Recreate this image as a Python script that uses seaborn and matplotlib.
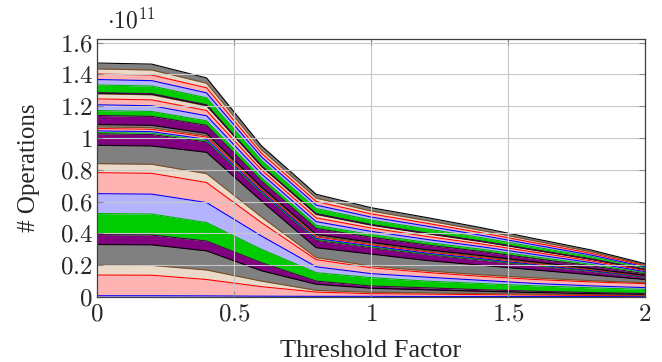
import numpy as np
import matplotlib
matplotlib.use("Agg")
import matplotlib.pyplot as plt
import seaborn as sns
from matplotlib.ticker import FuncFormatter

# ---- data (units of 1e11 operations) ----
threshold = [0.0, 0.2, 0.4, 0.6, 0.8, 1.0, 1.2, 1.4, 1.6, 1.8, 2.0]

s01 = [0.008, 0.008, 0.007, 0.005, 0.004, 0.004, 0.003, 0.003, 0.003, 0.003, 0.003]
s02 = [0.130, 0.129, 0.103, 0.060, 0.027, 0.017, 0.015, 0.012, 0.009, 0.007, 0.005]
s03 = [0.062, 0.062, 0.060, 0.035, 0.011, 0.009, 0.008, 0.007, 0.006, 0.005, 0.004]
s04 = [0.130, 0.129, 0.120, 0.065, 0.038, 0.025, 0.019, 0.014, 0.010, 0.007, 0.005]
s05 = [0.063, 0.062, 0.062, 0.051, 0.020, 0.014, 0.013, 0.010, 0.008, 0.006, 0.005]
s06 = [0.132, 0.132, 0.116, 0.084, 0.053, 0.053, 0.042, 0.039, 0.034, 0.030, 0.026]
s07 = [0.125, 0.125, 0.126, 0.084, 0.037, 0.025, 0.025, 0.020, 0.015, 0.012, 0.011]
s08 = [0.132, 0.131, 0.126, 0.084, 0.045, 0.037, 0.030, 0.025, 0.025, 0.025, 0.025]
s09 = [0.057, 0.057, 0.056, 0.036, 0.013, 0.011, 0.010, 0.010, 0.010, 0.008, 0.006]
s10 = [0.115, 0.115, 0.134, 0.100, 0.062, 0.075, 0.065, 0.060, 0.050, 0.037, 0.020]
s11 = [0.073, 0.072, 0.066, 0.049, 0.047, 0.041, 0.038, 0.033, 0.027, 0.022, 0.014]
s12 = [0.008, 0.008, 0.007, 0.005, 0.005, 0.005, 0.004, 0.004, 0.003, 0.002, 0.002]
s13 = [0.010, 0.010, 0.009, 0.007, 0.006, 0.006, 0.005, 0.005, 0.004, 0.003, 0.002]
s14 = [0.015, 0.015, 0.014, 0.010, 0.010, 0.008, 0.008, 0.007, 0.006, 0.005, 0.003]
s15 = [0.010, 0.010, 0.009, 0.007, 0.006, 0.006, 0.005, 0.005, 0.004, 0.003, 0.002]
s16 = [0.015, 0.015, 0.014, 0.010, 0.010, 0.008, 0.008, 0.007, 0.006, 0.005, 0.003]
s17 = [0.057, 0.056, 0.051, 0.038, 0.037, 0.032, 0.030, 0.026, 0.021, 0.017, 0.011]
s18 = [0.031, 0.031, 0.028, 0.021, 0.020, 0.017, 0.016, 0.014, 0.012, 0.009, 0.006]
s19 = [0.036, 0.036, 0.032, 0.024, 0.023, 0.020, 0.019, 0.016, 0.014, 0.011, 0.007]
s20 = [0.037, 0.037, 0.033, 0.025, 0.024, 0.021, 0.019, 0.017, 0.014, 0.011, 0.007]
s21 = [0.032, 0.032, 0.029, 0.021, 0.021, 0.018, 0.017, 0.015, 0.012, 0.010, 0.006]
s22 = [0.004, 0.004, 0.004, 0.003, 0.003, 0.002, 0.002, 0.002, 0.002, 0.001, 0.001]
s23 = [0.003, 0.003, 0.003, 0.002, 0.002, 0.002, 0.002, 0.001, 0.001, 0.001, 0.001]
s24 = [0.049, 0.048, 0.044, 0.033, 0.032, 0.028, 0.026, 0.022, 0.018, 0.015, 0.009]
s25 = [0.034, 0.034, 0.031, 0.023, 0.022, 0.019, 0.018, 0.015, 0.013, 0.010, 0.006]
s26 = [0.035, 0.035, 0.032, 0.023, 0.023, 0.020, 0.018, 0.016, 0.013, 0.011, 0.007]
s27 = [0.032, 0.032, 0.029, 0.021, 0.021, 0.018, 0.017, 0.015, 0.012, 0.010, 0.006]
s28 = [0.037, 0.037, 0.033, 0.025, 0.024, 0.021, 0.019, 0.017, 0.014, 0.011, 0.007]

series = [s01, s02, s03, s04, s05, s06, s07, s08, s09, s10, s11, s12, s13, s14,
          s15, s16, s17, s18, s19, s20, s21, s22, s23, s24, s25, s26, s27, s28]

xticks = [0, 0.5, 1, 1.5, 2]
yticks = [0, 0.2, 0.4, 0.6, 0.8, 1.0, 1.2, 1.4, 1.6]

# colour cycle: (line colour, fill colour)
cycle = [
    ("#0000ff", "#b3b3ff"),   # blue
    ("#ff0000", "#ffb3b3"),   # red
    ("#7a4d26", "#ecdac8"),   # brown
    ("#000000", "#808080"),   # black / gray
    ("#4d004d", "#800080"),   # violet
    ("#00b300", "#00cc00"),   # green
]

sns.set_theme(style="white")
plt.rcParams["font.family"] = ["Liberation Serif", "DejaVu Serif"]
plt.rcParams["mathtext.fontset"] = "cm"

fig = plt.figure(figsize=(6.62, 3.62), dpi=100)
ax = fig.add_axes([97 / 662, 1 - 297 / 362, 548 / 662, 258 / 362])

fills = [cycle[i % 6][1] for i in range(len(series))]
ax.stackplot(threshold, *series, colors=fills, linewidth=0, zorder=1)

tops = np.cumsum(np.array(series), axis=0)
for i, top in enumerate(tops):
    sns.lineplot(x=threshold, y=top, color=cycle[i % 6][0], lw=0.8,
                 ax=ax, zorder=2, legend=False)

ax.set_xlim(0, 2)
ax.set_ylim(0, 1.623)
ax.set_xticks(xticks)
ax.set_yticks(yticks)
fmt = FuncFormatter(lambda v, p: f"${v:g}$")
ax.xaxis.set_major_formatter(fmt)
ax.yaxis.set_major_formatter(fmt)
ax.tick_params(axis="both", which="major", direction="in", length=4,
               width=0.8, color="#8c8c8c", labelsize=18, pad=5,
               top=True, right=True, bottom=True, left=True)
ax.tick_params(axis="y", pad=3)

ax.grid(True, color="#c8c8c8", lw=0.8, zorder=3)
ax.set_axisbelow(False)
for sp in ax.spines.values():
    sp.set_color("#404040")
    sp.set_linewidth(0.9)
    sp.set_zorder(4)

ax.set_xlabel("Threshold Factor", fontsize=19, labelpad=10)
ax.set_ylabel("# Operations", fontsize=18, labelpad=14)
ax.text(0.018, 1.02, r"$\cdot 10^{11}$", transform=ax.transAxes,
        fontsize=17, ha="left", va="bottom")

fig.savefig("out.png", dpi=100)
